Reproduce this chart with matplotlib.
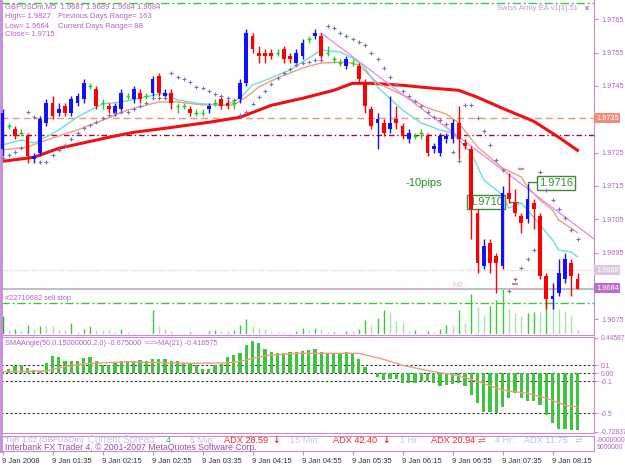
import matplotlib
matplotlib.use("Agg")
import matplotlib.pyplot as plt
import numpy as np

plt.rcParams['font.family'] = ['Liberation Sans', 'DejaVu Sans']

# GBPUSDm M5, 9 Jan 2008, bar 0 = 00:55
opens = [1.9726, 1.9733, 1.9732, 1.9731, 1.9730, 1.9723, 1.9725, 1.9734, 1.9740, 1.9737,
         1.9739, 1.9737, 1.9740, 1.9741, 1.9745, 1.9744, 1.9740, 1.9739, 1.9737, 1.9738,
         1.9742, 1.9741, 1.9743, 1.9742, 1.9743, 1.9748, 1.9742, 1.9743, 1.9739, 1.9739,
         1.9738, 1.9737, 1.9737, 1.9738, 1.9740, 1.9741, 1.9740, 1.9740, 1.9741, 1.9746,
         1.9760, 1.9755, 1.9755, 1.9755, 1.9755, 1.9756, 1.9754, 1.9752, 1.9754, 1.9759,
         1.9760, 1.9760, 1.9755, 1.9753, 1.9752, 1.9751, 1.9752, 1.9751, 1.9746, 1.9738,
         1.9734, 1.9734, 1.9732, 1.9735, 1.9733, 1.9729, 1.9730, 1.9731, 1.9730, 1.9726,
         1.9725, 1.9729, 1.9729, 1.9734, 1.9728, 1.9726, 1.9707, 1.9691, 1.9698, 1.9694,
         1.9691, 1.9713, 1.9710, 1.9706, 1.9705, 1.9710, 1.9706, 1.9688, 1.9681, 1.9683,
         1.9687, 1.9692, 1.9687]
highs = [1.9738, 1.9734, 1.9733, 1.9732, 1.9731, 1.9725, 1.9736, 1.9741, 1.9742, 1.9740,
         1.9740, 1.9742, 1.9743, 1.9747, 1.9746, 1.9745, 1.9741, 1.9740, 1.9740, 1.9744,
         1.9743, 1.9745, 1.9744, 1.9743, 1.9748, 1.9749, 1.9744, 1.9744, 1.9740, 1.9740,
         1.9739, 1.9738, 1.9738, 1.9740, 1.9741, 1.9742, 1.9741, 1.9741, 1.9747, 1.9762,
         1.9761, 1.9757, 1.9756, 1.9756, 1.9756, 1.9757, 1.9755, 1.9756, 1.9759, 1.9760,
         1.9762, 1.9761, 1.9757, 1.9754, 1.9753, 1.9754, 1.9753, 1.9752, 1.9747, 1.9739,
         1.9737, 1.9735, 1.9742, 1.9739, 1.9734, 1.9732, 1.9731, 1.9732, 1.9731, 1.9728,
         1.9731, 1.9731, 1.9735, 1.9739, 1.9729, 1.9727, 1.9708, 1.9699, 1.9699, 1.9695,
         1.9715, 1.9719, 1.9714, 1.9707, 1.9716, 1.9711, 1.9707, 1.9689, 1.9686, 1.9693,
         1.9695, 1.9693, 1.9689]
lows = [1.9724, 1.9732, 1.9729, 1.9730, 1.9722, 1.9722, 1.9724, 1.9733, 1.9735, 1.9736,
        1.9736, 1.9736, 1.9739, 1.9740, 1.9744, 1.9738, 1.9738, 1.9737, 1.9736, 1.9737,
        1.9741, 1.9740, 1.9740, 1.9741, 1.9742, 1.9742, 1.9741, 1.9738, 1.9737, 1.9738,
        1.9736, 1.9736, 1.9736, 1.9737, 1.9739, 1.9738, 1.9738, 1.9738, 1.9740, 1.9745,
        1.9755, 1.9752, 1.9752, 1.9753, 1.9754, 1.9752, 1.9752, 1.9751, 1.9753, 1.9758,
        1.9759, 1.9753, 1.9754, 1.9752, 1.9751, 1.9750, 1.9751, 1.9746, 1.9737, 1.9732,
        1.9726, 1.9730, 1.9731, 1.9732, 1.9729, 1.9728, 1.9729, 1.9729, 1.9724, 1.9725,
        1.9724, 1.9728, 1.9728, 1.9723, 1.9726, 1.9699, 1.9689, 1.9690, 1.9689, 1.9683,
        1.9690, 1.9710, 1.9706, 1.9701, 1.9704, 1.9702, 1.9687, 1.9678, 1.9678, 1.9682,
        1.9686, 1.9682, 1.9684]
closes = [1.9737, 1.9733, 1.9730, 1.9731, 1.9724, 1.9724, 1.9735, 1.9740, 1.9736, 1.9738,
          1.9737, 1.9741, 1.9742, 1.9746, 1.9745, 1.9739, 1.9740, 1.9738, 1.9739, 1.9743,
          1.9742, 1.9744, 1.9741, 1.9742, 1.9747, 1.9743, 1.9743, 1.9740, 1.9739, 1.9739,
          1.9737, 1.9737, 1.9737, 1.9739, 1.9740, 1.9739, 1.9739, 1.9740, 1.9746, 1.9761,
          1.9756, 1.9754, 1.9754, 1.9754, 1.9755, 1.9753, 1.9753, 1.9755, 1.9758, 1.9759,
          1.9761, 1.9754, 1.9755, 1.9753, 1.9752, 1.9753, 1.9752, 1.9747, 1.9739, 1.9733,
          1.9735, 1.9731, 1.9734, 1.9734, 1.9730, 1.9731, 1.9730, 1.9731, 1.9725, 1.9727,
          1.9730, 1.9730, 1.9734, 1.9729, 1.9727, 1.9708, 1.9692, 1.9697, 1.9692, 1.9692,
          1.9713, 1.9711, 1.9707, 1.9704, 1.9711, 1.9708, 1.9688, 1.9681, 1.9682, 1.9689,
          1.9693, 1.9688, 1.9684]
volumes = [48, 11, 13, 8, 25, 13, 21, 20, 20, 11, 10, 28, 5, 13, 21, 10, 10, 10, 6, 13,
           6, 3, 3, 3, 63, 20, 13, 8, 2, 2, 6, 3, 3, 8, 10, 8, 8, 11, 25, 41,
           20, 16, 13, 5, 5, 5, 3, 8, 16, 10, 16, 13, 5, 6, 3, 8, 8, 13, 38, 25,
           43, 63, 58, 35, 31, 8, 11, 3, 8, 6, 13, 23, 20, 63, 30, 105, 71, 51, 75, 91,
           123, 67, 55, 48, 55, 58, 58, 90, 85, 66, 61, 48, 11]
sar = [1.97234, 1.97243, 1.97252, 1.97264, 1.97372, 1.97357, 1.97222, 1.97222, 1.97243, 1.97258,
       1.97273, 1.97291, 1.97309, 1.97324, 1.97333, 1.97342, 1.97354, 1.97363, 1.97369, 1.97372,
       1.97372, 1.97381, 1.97390, 1.97399, 1.97414, 1.97414, 1.97414, 1.97489, 1.97477, 1.97471,
       1.97462, 1.97447, 1.97444, 1.97435, 1.97426, 1.97420, 1.97414, 1.97408, 1.97363, 1.97372,
       1.97396, 1.97417, 1.97435, 1.97456, 1.97474, 1.97489, 1.97501, 1.97513, 1.97519, 1.97522,
       1.97528, 1.97528, 1.97630, 1.97624, 1.97609, 1.97600, 1.97591, 1.97582, 1.97573, 1.97549,
       1.97531, 1.97504, 1.97477, 1.97456, 1.97435, 1.97420, 1.97405, 1.97390, 1.97372, 1.97357,
       1.97348, 1.97336, 1.97252, 1.97225, 1.97393, 1.97393, 1.97354, 1.97315, 1.97273, 1.97228,
       1.97198, 1.96835, 1.96871, 1.96904, 1.96931, 1.96958, 1.97192, 1.97138, 1.97108, 1.97081,
       1.97054, 1.97018, 1.96991]

# moving averages (bar index, price)
fast_ma_x = [0, 3, 5, 7, 9, 12, 16, 19, 22, 26, 28, 32, 36, 38, 40, 43, 46, 49, 51, 54,
             56, 58, 60, 64, 67, 70, 72, 75, 77, 80, 81, 83, 84, 86, 88, 89, 91, 92]
fast_ma_y = [1.97273, 1.97288, 1.97279, 1.97297, 1.97318, 1.97357, 1.97396, 1.97402, 1.97414, 1.97429,
             1.97408, 1.97396, 1.97393, 1.97414, 1.97453, 1.97474, 1.97498, 1.97534, 1.97558, 1.97552,
             1.97534, 1.97504, 1.97447, 1.97378, 1.97339, 1.97318, 1.97309, 1.97249, 1.97168, 1.97123,
             1.97084, 1.97099, 1.97078, 1.97033, 1.96988, 1.96958, 1.96952, 1.96937]
mid_ma_x = [0, 4, 8, 12, 16, 20, 25, 28, 32, 37, 39, 41, 44, 48, 51, 55, 57, 60, 64, 68,
            71, 73, 76, 80, 83, 84, 86, 88, 89, 92]
mid_ma_y = [1.97258, 1.97267, 1.97294, 1.97318, 1.97347, 1.97378, 1.97402, 1.97402, 1.97393, 1.97393,
            1.97417, 1.97447, 1.97474, 1.97504, 1.97519, 1.97522, 1.97513, 1.97459, 1.97423, 1.97384,
            1.97366, 1.97339, 1.97267, 1.97204, 1.97177, 1.97147, 1.97108, 1.97078, 1.97048, 1.97010]
slow_ma_x = [0, 5, 9, 17, 21, 26, 33, 38, 43, 48, 53, 56, 59, 64, 69, 73, 76, 80, 85, 89, 92]
slow_ma_y = [1.97224, 1.97236, 1.97263, 1.97296, 1.97311, 1.97323, 1.97341, 1.97356, 1.97392, 1.97413,
             1.97437, 1.97458, 1.97458, 1.97452, 1.97443, 1.97437, 1.97416, 1.97383, 1.97344, 1.97296,
             1.97257]
trend_x = [51, 95]
trend_y = [1.97609, 1.96986]

# SMAAngle histogram and its MA(21)
angle = [0.03, 0.06, 0.09, 0.10, 0.07, 0.04, 0.03, 0.13, 0.22, 0.20,
         0.16, 0.16, 0.16, 0.19, 0.21, 0.15, 0.10, 0.10, 0.13, 0.16,
         0.16, 0.16, 0.17, 0.16, 0.18, 0.18, 0.18, 0.16, 0.15, 0.13,
         0.12, 0.10, 0.05, 0.06, 0.10, 0.12, 0.21, 0.23, 0.26, 0.35,
         0.40, 0.38, 0.31, 0.27, 0.26, 0.26, 0.27, 0.27, 0.28, 0.29,
         0.30, 0.27, 0.25, 0.25, 0.25, 0.27, 0.26, 0.18, 0.08, 0.01,
         -0.04, -0.08, -0.07, -0.07, -0.12, -0.12, -0.12, -0.10, -0.10, -0.12,
         -0.16, -0.15, -0.13, -0.12, -0.16, -0.27, -0.37, -0.48, -0.48, -0.49,
         -0.42, -0.31, -0.25, -0.31, -0.34, -0.34, -0.40, -0.52, -0.62, -0.69,
         -0.70, -0.71, -0.71]
angle_ma_x = [0, 7, 9, 13, 20, 30, 36, 38, 42, 47, 57, 61, 64, 69, 73, 76, 80, 84, 87, 90, 92]
angle_ma_y = [0.02, 0.03, 0.07, 0.12, 0.145, 0.125, 0.13, 0.15, 0.22, 0.25, 0.25, 0.175, 0.10, 0.02,
              -0.03, -0.10, -0.21, -0.25, -0.31, -0.40, -0.42]

time_ticks = [0, 8, 16, 24, 32, 40, 48, 56, 64, 72, 80, 88]
time_labels = ['9 Jan 2008', '9 Jan 01:35', '9 Jan 02:15', '9 Jan 02:55', '9 Jan 03:35',
               '9 Jan 04:15', '9 Jan 04:55', '9 Jan 05:35', '9 Jan 06:15', '9 Jan 06:55',
               '9 Jan 07:35', '9 Jan 08:15']
price_ticks = [1.9765, 1.9755, 1.9745, 1.9725, 1.9715, 1.9705, 1.9695, 1.9675]

W, H = 625, 469
VIOLET = '#c88ad8'
VTEXT = '#b460c8'
GREEN = '#33cc33'
fig = plt.figure(figsize=(W / 100, H / 100), dpi=100, facecolor='white')


def px_axes(x0, y0, x1, y1):
    return fig.add_axes([x0 / W, 1 - y1 / H, (x1 - x0) / W, (y1 - y0) / H])


def ptext(x, y, s, **kw):
    kw.setdefault('va', 'center')
    return fig.text(x / W, 1 - y / H, s, **kw)


bars = np.arange(len(opens))
XL = (-0.24, 94.64)

# volumes at the bottom of the price pane
vax = px_axes(1, 285, 594, 334)
vax.set_xlim(XL)
vax.set_ylim(0, 130)
vax.axis('off')
vcol = [GREEN if i > 0 and volumes[i] > volumes[i - 1] else '#a8e2a8' for i in bars]
vcol[0] = '#22aa22'
vax.vlines(bars, 0, volumes, colors=vcol, lw=1)

ax = px_axes(1, 0, 594, 335)
ax.set_facecolor('none')
ax.set_xlim(XL)
ax.set_ylim(1.967029, 1.977079)

# horizontal levels
ax.axhline(1.9770, color=GREEN, lw=1, ls=(0, (6, 2, 1.5, 2)))
ax.axhline(1.9680, color=GREEN, lw=1, ls=(0, (6, 2, 1.5, 2)))
ax.axhline(1.97355, color='#f09080', lw=1, ls=(0, (5, 3)))
ax.axhline(1.97304, color='#b00030', lw=1, ls=(0, (4, 2, 1, 2)))
ax.axhline(1.96898, color='#e8c8e8', lw=1, ls=(0, (1, 1)))
ax.axhline(1.9684, color='#c0c0c0', lw=1.5)

ax.plot(slow_ma_x, slow_ma_y, color='#ee1111', lw=2.2, zorder=2)
ax.plot(mid_ma_x, mid_ma_y, color='#f49a80', lw=1, zorder=2)
ax.plot(fast_ma_x, fast_ma_y, color='#70dcd8', lw=1, zorder=2)
ax.plot(trend_x, trend_y, color='#e394e6', lw=1, zorder=2)

# price boxes (candles drawn over them)
ax.plot([81.2, 82.5], [1.97102, 1.97102], color='#3c8c3c', lw=1, zorder=2)
ax.plot([84, 85.5], [1.97162, 1.97162], color='#3c8c3c', lw=1, zorder=2)
box = dict(boxstyle='square,pad=0.2', fc='white', ec='#3c8c3c', lw=1)
ax.text(74.6, 1.97102, '1.9710', color='#3c8c3c', fontsize=8, va='center', bbox=box, zorder=2.5)
ax.text(85.8, 1.97159, '1.9716', color='#3c8c3c', fontsize=8, va='center', bbox=box, zorder=2.5)
ax.text(64.5, 1.97159, '-10pips', color='#2a8a2a', fontsize=8, va='center')
ax.text(72.0, 1.96850, 'M2', color='#e2bce2', fontsize=5.5, va='center')
ax.plot([83, 82], [1.97201, 1.96857], ls='none', marker='_', ms=5, mew=1.5, color='#f08070', zorder=3)

# candles
for i in bars:
    o, h, l, c = opens[i], highs[i], lows[i], closes[i]
    if o == c:
        ax.vlines(i, l, h, color='#22cc22', lw=1, zorder=4)
        ax.hlines(o, i - 0.3, i + 0.3, color='#22cc22', lw=1, zorder=4)
    else:
        col = '#1010ff' if c > o else '#ff0000'
        ax.vlines(i, l, h, color=col, lw=1, zorder=4)
        ax.bar(i, abs(c - o), bottom=min(o, c), width=0.6, color=col, lw=0, zorder=4)

ax.plot(bars, sar, ls='none', marker='+', ms=2.6, mew=0.8, color='#7676b4', zorder=5)

ax.spines['top'].set_visible(False)
ax.spines['left'].set_color(VIOLET)
ax.spines['left'].set_linewidth(2)
ax.spines['right'].set_color(VIOLET)
ax.spines['bottom'].set_color(VIOLET)
ax.set_xticks([])
ax.yaxis.tick_right()
ax.set_yticks(price_ticks)
ax.set_yticklabels([f'{p:.4f}' for p in price_ticks])
ax.tick_params(axis='y', direction='out', length=3, color=VIOLET, labelcolor=VTEXT,
               labelsize=5.3, pad=2)

# right-axis price labels
ptext(596, 118, '1.9735', color='white', fontsize=5.3,
      bbox=dict(boxstyle='square,pad=0.25', fc='#f28c7c', ec='none'))
ptext(596, 270, '1.9688', color='white', fontsize=5.3,
      bbox=dict(boxstyle='square,pad=0.25', fc='#dec6de', ec='none'))
ptext(596, 288, '1.9684', color='white', fontsize=5.3,
      bbox=dict(boxstyle='square,pad=0.25', fc='#bc6ccc', ec='none'))

# info texts
ptext(5, 7, 'GBPUSDm,M5  1.9687 1.9689 1.9684 1.9684', color=VTEXT, fontsize=5.5)
ptext(5, 17, 'High= 1.9827', color=VTEXT, fontsize=5.5)
ptext(5, 26, 'Low= 1.9664', color=VTEXT, fontsize=5.5)
ptext(5, 35, 'Close= 1.9715', color=VTEXT, fontsize=5.5)
ptext(58, 17, 'Previous Days Range= 163', color=VTEXT, fontsize=5.5)
ptext(58, 26, 'Current Days Range= 88', color=VTEXT, fontsize=5.5)
ptext(497, 8, 'Swiss Army EA v1[1].51', color='#d090e0', fontsize=5.5)
ptext(585, 8, 'x', color='#b050c8', fontsize=5.5, fontweight='bold')
ptext(5, 298, '#22710682 sell stop', color=VTEXT, fontsize=5.3)

# SMAAngle pane
ind = px_axes(1, 337, 594, 433)
ind.set_xlim(XL)
ind.set_ylim(-0.746, 0.454)
for lvl in [0.1, 0.0, -0.1, -0.5]:
    ind.axhline(lvl, color='#303030', lw=0.8, ls=(0, (2, 2)), zorder=1)
ind.bar(bars, angle, width=0.55, color='#3ec43e', lw=0, zorder=2)
ind.plot(angle_ma_x, angle_ma_y, color='#f49a80', lw=1, zorder=3)
ind.set_xticks([])
ind.yaxis.tick_right()
ind_ticks = [0.445875, 0.1, 0.0, -0.1, -0.5, -0.72837]
ind.set_yticks(ind_ticks)
ind.set_yticklabels(['0.445875', '0.1', '0.00', '-0.1', '-0.5', '-0.72837'])
ind.tick_params(axis='y', direction='out', length=3, color=VIOLET, labelcolor=VTEXT,
                labelsize=4.9, pad=2)
for s in ind.spines.values():
    s.set_color(VIOLET)
ind.spines['left'].set_linewidth(2)
ptext(5, 343, 'SMAAngle(50,0.15000000,2,0) -0.675000  ==>MA(21) -0.416575',
      color=VTEXT, fontsize=5.3)

# TqR pane + time axis
tq = px_axes(1, 436, 594, 451)
tq.set_xlim(XL)
tq.set_ylim(0, 1)
tq.set_yticks([])
for s in tq.spines.values():
    s.set_color(VIOLET)
tq.spines['left'].set_linewidth(2)
tq.set_xticks(time_ticks)
tq.set_xticklabels(time_labels)
tq.tick_params(axis='x', direction='out', length=3, color=VIOLET, labelcolor='#303030',
               labelsize=5.5, pad=2)
for lbl in tq.get_xticklabels():
    lbl.set_horizontalalignment('left')

ptext(597, 440, '-9000000', color=VTEXT, fontsize=4.9)
ptext(597, 447, '9000000', color=VTEXT, fontsize=4.9)

grey = '#c8c8e6'
ptext(5, 440, 'TqR 1.02 (GBPUSDm)', color='#c4a8e0', fontsize=5.6)
ptext(88, 440, 'Current Spread:', color=grey, fontsize=7)
ptext(166, 440, '4', color=GREEN, fontsize=6.6)
ptext(190, 440, '5 Min:', color=grey, fontsize=6.6)
ptext(224, 440, 'ADX 28.59', color='#ff2020', fontsize=6.6)
ptext(272, 440, '↓', color='#ff2020', fontsize=6.6, fontweight='bold', family='DejaVu Sans')
ptext(290, 440, '15 Min:', color=grey, fontsize=6.6)
ptext(333, 440, 'ADX 42.40', color='#ff2020', fontsize=6.6)
ptext(382, 440, '↓', color='#ff2020', fontsize=6.6, fontweight='bold', family='DejaVu Sans')
ptext(400, 440, '1 Hr:', color=grey, fontsize=6.6)
ptext(431, 440, 'ADX 20.94', color='#ff2020', fontsize=6.6)
ptext(478, 440, '⇌', color='#ff5050', fontsize=6.6, family='DejaVu Sans')
ptext(495, 440, '4 Hr:', color=grey, fontsize=6.6)
ptext(524, 440, 'ADX 11.75', color='#a8c8f0', fontsize=6.6)
ptext(575, 440, '⇌', color='#a8c8f0', fontsize=6.6, family='DejaVu Sans')
ptext(5, 447, 'Interbank FX Trader 4, © 2001-2007 MetaQuotes Software Corp.',
      color='#9848b8', fontsize=6.3)

fig.savefig('out.png', dpi=100, facecolor='white')
